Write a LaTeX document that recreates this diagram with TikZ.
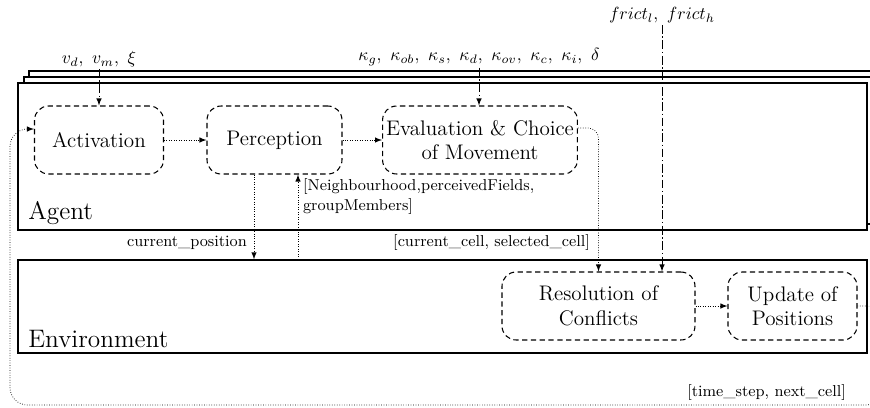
\documentclass[tikz,border=0pt]{standalone}
\usepackage{tikz}
\tikzstyle{lyr}=[draw=black,thick,fill=white]
\tikzstyle{stp}=[draw=black,semithick,densely dashed,rounded corners=8pt,fill=white,align=center,font=\large,inner sep=2pt,minimum height=1.36cm]
\tikzstyle{flw}=[densely dotted,-latex]
\tikzstyle{prm}=[dash pattern=on 5pt off 1.5pt on 0.8pt off 1.5pt,-latex]
\tikzstyle{lbl}=[font=\small,inner sep=1pt]

\begin{document}
\begin{tikzpicture}[x=0.02cm,y=-0.02cm]
\useasboundingbox (0,0) rectangle (870,407);
% agent (stacked) and environment
\draw[lyr] (29,71) rectangle (879,218); \draw[lyr] (24,77) rectangle (873,224);
\node[lyr,minimum width=16.98cm,minimum height=2.94cm,inner sep=0] (agent) at (442.5,156.5) {};
\node[lyr,minimum width=16.98cm,minimum height=1.86cm,inner sep=0] (env) at (442.5,306.5) {};
\node[anchor=base west,font=\Large,inner sep=0] (agt) at (28,219) {Agent};
\node[anchor=base west,font=\Large,inner sep=0] (envl) at (28,347) {Environment};
% steps
\node[stp,minimum width=2.58cm] (act) at (99,140) {Activation};
\node[stp,minimum width=2.7cm] (perc) at (274.5,140) {Perception};
\node[stp,minimum width=3.88cm] (eval) at (480,140) {Evaluation \& Choice\\of Movement};
\node[stp,minimum width=3.86cm] (res) at (598.5,306) {Resolution of\\Conflicts};
\node[stp,minimum width=2.58cm] (upd) at (792.5,306) {Update of\\Positions};
% parameters
\node[inner sep=1pt] (vpar) at (99,59) {$v_d,\ v_m,\ \xi$};
\node[inner sep=1pt] (kpar) at (479,57) {$\kappa_g,\ \kappa_{ob},\ \kappa_s,\ \kappa_d,\ \kappa_{ov},\ \kappa_c,\ \kappa_i,\ \delta$};
\node[inner sep=1pt] (fpar) at (662,15) {$frict_l,\ frict_h$};
\draw[prm] (vpar.south) -- (vpar.south |- act.north);
\draw[prm] (kpar.south) -- (kpar.south |- eval.north);
\draw[prm] (fpar.south) -- (fpar.south |- res.north);
% flows
\draw[flw] (act) -- (perc); \draw[flw] (perc) -- (eval); \draw[flw] (res) -- (upd);
\draw[flw,rounded corners=6pt] ([yshift=0.24cm]eval.east) -| (res.north);
\draw[flw] ([xshift=-0.41cm]perc.south) -- ([xshift=-0.41cm]perc.south |- env.north);
\draw[flw] ([xshift=0.47cm]perc.south |- env.north) -- ([xshift=0.47cm]perc.south);
\coordinate (lpR) at (884,405); \coordinate (lpL) at (10,405);
\draw[flw,rounded corners=10pt] (upd.east) -| (lpR) -- (lpL) |- ([yshift=0.22cm]act.west);
% labels
\node[lbl,anchor=east] (cpos) at (249,243) {current\_position};
\node[lbl,anchor=east] (cells) at (592,243) {[current\_cell,\ selected\_cell]};
\node[lbl,anchor=north west,align=left] (nbh) at (301,177) {[Neighbourhood,perceivedFields,\\groupMembers]};
\node[lbl,anchor=east] (tnc) at (848,393) {[time\_step, next\_cell]};
\end{tikzpicture}
\end{document}
